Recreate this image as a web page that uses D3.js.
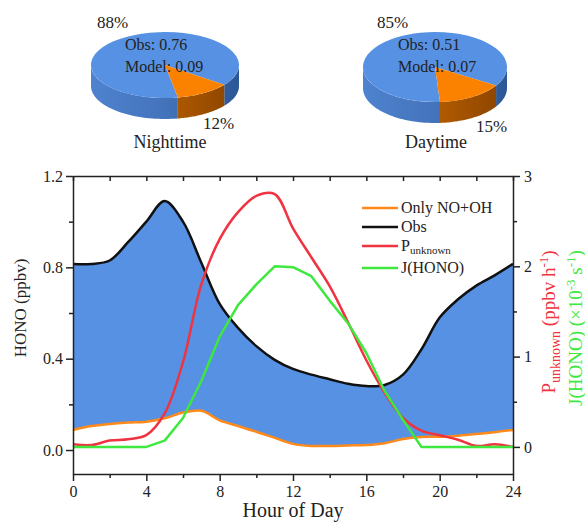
<!DOCTYPE html>
<html>
<head>
<meta charset="utf-8">
<script src="https://cdn.jsdelivr.net/npm/d3@7"></script>
<style>
  body { margin: 0; background: #fff; }
  svg { display: block; font-family: "Liberation Serif", "Times New Roman", serif; }
</style>
</head>
<body>
<div id="chart"></div>
<script>
// hourly diurnal data
var hours = [0, 1, 2, 3, 4, 5, 6, 7, 8, 9, 10, 11, 12, 13, 14, 15, 16, 17, 18, 19, 20, 21, 22, 23, 24];
var obsHono = [0.815, 0.815, 0.83, 0.91, 1.0, 1.09, 1.0, 0.82, 0.64, 0.535, 0.455, 0.395, 0.355, 0.33, 0.31, 0.29, 0.28, 0.285, 0.33, 0.44, 0.58, 0.66, 0.72, 0.765, 0.815];
var onlyNoOh = [0.088, 0.105, 0.114, 0.12, 0.124, 0.139, 0.164, 0.172, 0.13, 0.105, 0.08, 0.053, 0.027, 0.018, 0.018, 0.02, 0.022, 0.03, 0.048, 0.057, 0.058, 0.063, 0.07, 0.078, 0.088];
var pUnknown = [0.03, 0.02, 0.07, 0.085, 0.13, 0.37, 0.94, 1.8, 2.3, 2.6, 2.78, 2.8, 2.42, 2.1, 1.78, 1.38, 0.96, 0.6, 0.32, 0.18, 0.13, 0.08, 0.01, 0.03, 0.0];
var jHono = [0, 0, 0, 0, 0, 0.07, 0.32, 0.73, 1.22, 1.57, 1.8, 2.0, 1.99, 1.89, 1.62, 1.37, 1.04, 0.62, 0.3, 0, 0, 0, 0, 0, 0];

// axis ticks
var xTicks = [0, 4, 8, 12, 16, 20, 24];
var xMinor = [2, 6, 10, 14, 18, 22];
var yLeftTicks = [0, 0.4, 0.8, 1.2];
var yLeftMinor = [0.2, 0.6, 1.0];
var yRightTicks = [0, 1, 2, 3];
var yRightMinor = [0.5, 1.5, 2.5];

// pie charts (percent shares: unexplained, only NO+OH)
var pieNames = ["Nighttime", "Daytime"];
var pieShares = [[88, 12], [85, 15]];
var pieObs = ["0.76", "0.51"];
var pieModel = ["0.09", "0.07"];

var blue = "#5791e3";
var orange = "#ff8a1c";

var svgWidth = 585;
var svgHeight = 525;

var margin = {
    top: 176,
    right: 72,
    bottom: 51,
    left: 73
};

var width = svgWidth - margin.left - margin.right;
var height = svgHeight - margin.top - margin.bottom;

var svg = d3.select("#chart")
    .append("svg")
    .attr("width", svgWidth)
    .attr("height", svgHeight);

var defs = svg.append("defs");

//pies
var pieGeo = [
    {cx: 165, cy: 65, rx: 74, ry: 33, depth: 21, start: 170},
    {cx: 435, cy: 67, rx: 72, ry: 35, depth: 21, start: 176}
];

function ellPt(p, a, dy) {
    return [p.cx + p.rx * Math.sin(a), p.cy - p.ry * Math.cos(a) + dy];
}

pieGeo.forEach(function(p, i) {
    var shares = pieShares[i];
    var st = p.start * Math.PI / 180;
    var arcs = d3.pie().sort(null).startAngle(st).endAngle(st + 2 * Math.PI)(shares);
    var topCols = [blue, "#fb8200"];
    var sideStops = [["#4f83cf", "#4373bb", "#2c5795"], ["#d97400", "#b35c00", "#8a4300"]];

    var g = svg.append("g");

    // side walls (front half only)
    arcs.forEach(function(d, k) {
        var gid = "side" + i + "_" + k;
        var grad = defs.append("linearGradient")
            .attr("id", gid)
            .attr("gradientUnits", "userSpaceOnUse")
            .attr("x1", p.cx - p.rx).attr("x2", p.cx + p.rx)
            .attr("y1", 0).attr("y2", 0);
        sideStops[k].forEach(function(c, j) {
            grad.append("stop").attr("offset", j / 2).attr("stop-color", c);
        });
        [0, 1, 2].forEach(function(turn) {
            var lo = Math.max(d.startAngle, Math.PI / 2 + turn * 2 * Math.PI);
            var hi = Math.min(d.endAngle, 3 * Math.PI / 2 + turn * 2 * Math.PI);
            if (hi <= lo) return;
            var n = 40;
            var pts = [];
            for (var s = 0; s <= n; s++) pts.push(ellPt(p, lo + (hi - lo) * s / n, 0));
            for (var s2 = n; s2 >= 0; s2--) pts.push(ellPt(p, lo + (hi - lo) * s2 / n, p.depth));
            g.append("path")
                .attr("d", d3.line()(pts) + "Z")
                .attr("fill", "url(#" + gid + ")");
        });
    });

    // top face
    var top = g.append("g")
        .attr("transform", `translate(${p.cx}, ${p.cy}) scale(1, ${p.ry / p.rx})`);
    top.selectAll("path")
        .data(arcs)
        .enter()
        .append("path")
        .attr("d", d3.arc().innerRadius(0).outerRadius(p.rx))
        .attr("fill", (d, k) => topCols[k]);

    // text
    var left = p.cx - 40 + (i === 1 ? 3 : 0);
    g.append("text")
        .attr("x", left).attr("y", 50)
        .style("font-size", "16px").attr("fill", "#222")
        .text("Obs: " + pieObs[i]);
    g.append("text")
        .attr("x", left).attr("y", 72)
        .style("font-size", "16px").attr("fill", "#222")
        .text("Model: " + pieModel[i]);
    g.append("text")
        .attr("x", p.cx - 68 + i * 10).attr("y", 28)
        .style("font-size", "17px").attr("fill", "#222")
        .text(shares[0] + "%");
    g.append("text")
        .attr("x", p.cx + 38 + i * 3).attr("y", 129 + i * 3)
        .style("font-size", "17px").attr("fill", "#222")
        .text(shares[1] + "%");
    g.append("text")
        .attr("x", p.cx + (i === 0 ? 5 : 1)).attr("y", 148)
        .attr("text-anchor", "middle")
        .style("font-size", "18px").attr("fill", "#222")
        .text(pieNames[i]);
});

//main chart group
var chartGroup = svg.append("g")
    .attr("transform", `translate(${margin.left}, ${margin.top})`);

var xLinearScale = d3.scaleLinear().domain([0, 24]).range([0, width]);
var yLeftScale = d3.scaleLinear().domain([-0.105, 1.2]).range([height, 0]);
var yRightScale = d3.scaleLinear().domain([-0.3, 3]).range([height, 0]);

var rows = hours.map(function(h, i) {
    return {h: h, obs: obsHono[i], noOh: onlyNoOh[i], p: pUnknown[i], j: jHono[i]};
});

var smooth = d3.curveCatmullRom.alpha(0.5);

// blue area between Only NO+OH and Obs
chartGroup.append("path")
    .datum(rows)
    .attr("fill", blue)
    .attr("d", d3.area()
        .curve(smooth)
        .x(d => xLinearScale(d.h))
        .y0(d => yLeftScale(d.noOh))
        .y1(d => yLeftScale(d.obs)));

var lines = [
    {key: "noOh", scale: yLeftScale, color: orange, curve: smooth},
    {key: "obs", scale: yLeftScale, color: "#111", curve: smooth},
    {key: "p", scale: yRightScale, color: "#ef3340", curve: smooth},
    {key: "j", scale: yRightScale, color: "#3ee83e", curve: d3.curveLinear}
];

lines.forEach(function(l) {
    chartGroup.append("path")
        .datum(rows)
        .attr("fill", "none")
        .attr("stroke", l.color)
        .attr("stroke-width", 2.5)
        .attr("stroke-linejoin", "round")
        .attr("d", d3.line()
            .curve(l.curve)
            .x(d => xLinearScale(d.h))
            .y(d => l.scale(d[l.key])));
});

//axes
function styleAxis(sel) {
    sel.selectAll("path").attr("stroke", "#222").attr("stroke-width", 1.5);
    sel.selectAll("line").attr("stroke", "#222").attr("stroke-width", 1.5);
    sel.selectAll("text")
        .attr("fill", "#222")
        .style("font-size", "16px")
        .style("font-family", "Liberation Serif, Times New Roman, serif");
}

chartGroup.append("g")
    .attr("transform", `translate(0, ${height})`)
    .call(d3.axisBottom(xLinearScale).tickValues(xTicks).tickSize(7).tickSizeOuter(0).tickPadding(5))
    .call(styleAxis);
chartGroup.append("g")
    .attr("transform", `translate(0, ${height})`)
    .call(d3.axisBottom(xLinearScale).tickValues(xMinor).tickSize(4).tickFormat(""))
    .call(styleAxis)
    .select(".domain").remove();

chartGroup.append("g")
    .call(d3.axisTop(xLinearScale).tickValues(xTicks.concat(xMinor)).tickSize(-5).tickSizeOuter(0).tickFormat(""))
    .call(styleAxis);

chartGroup.append("g")
    .call(d3.axisLeft(yLeftScale).tickValues(yLeftTicks).tickFormat(d3.format(".1f")).tickSize(7).tickSizeOuter(0).tickPadding(3))
    .call(styleAxis);
chartGroup.append("g")
    .call(d3.axisLeft(yLeftScale).tickValues(yLeftMinor).tickSize(4).tickFormat(""))
    .call(styleAxis)
    .select(".domain").remove();

chartGroup.append("g")
    .attr("transform", `translate(${width}, 0)`)
    .call(d3.axisRight(yRightScale).tickValues(yRightTicks).tickFormat(d3.format("d")).tickSize(7).tickSizeOuter(0).tickPadding(4))
    .call(styleAxis);
chartGroup.append("g")
    .attr("transform", `translate(${width}, 0)`)
    .call(d3.axisRight(yRightScale).tickValues(yRightMinor).tickSize(4).tickFormat(""))
    .call(styleAxis)
    .select(".domain").remove();

//axis titles
svg.append("text")
    .attr("x", margin.left + width / 2)
    .attr("y", 517)
    .attr("text-anchor", "middle")
    .style("font-size", "20px")
    .attr("fill", "#222")
    .text("Hour of Day");

svg.append("text")
    .attr("transform", "translate(26, 308) rotate(-90)")
    .attr("text-anchor", "middle")
    .style("font-size", "17px")
    .attr("fill", "#222")
    .text("HONO (ppbv)");

var pLabel = svg.append("text")
    .attr("transform", "translate(555, 322) rotate(-90)")
    .attr("text-anchor", "middle")
    .style("font-size", "19px")
    .attr("fill", "#ef3340");
pLabel.append("tspan").text("P");
pLabel.append("tspan").attr("dy", 5).style("font-size", "14px").text("unknown");
pLabel.append("tspan").attr("dy", -5).text(" (ppbv h");
pLabel.append("tspan").attr("dy", -7).style("font-size", "13px").text("-1");
pLabel.append("tspan").attr("dy", 7).text(")");

var jLabel = svg.append("text")
    .attr("transform", "translate(582, 328) rotate(-90)")
    .attr("text-anchor", "middle")
    .style("font-size", "19px")
    .attr("fill", "#3ee83e");
jLabel.append("tspan").text("J(HONO) (\u00d710");
jLabel.append("tspan").attr("dy", -7).style("font-size", "13px").text("-3");
jLabel.append("tspan").attr("dy", 7).text(" s");
jLabel.append("tspan").attr("dy", -7).style("font-size", "13px").text("-1");
jLabel.append("tspan").attr("dy", 7).text(")");

//legend
var legendNames = ["Only NO+OH", "Obs", "P", "J(HONO)"];
var legendColors = [orange, "#111", "#ef3340", "#3ee83e"];
var legendY = [208, 227, 246, 268];

var legend = svg.append("g");
legendNames.forEach(function(name, i) {
    legend.append("line")
        .attr("x1", 362).attr("x2", 398)
        .attr("y1", legendY[i]).attr("y2", legendY[i])
        .attr("stroke", legendColors[i])
        .attr("stroke-width", 2.5);
    var t = legend.append("text")
        .attr("x", 401)
        .attr("y", legendY[i] + 5)
        .style("font-size", "16px")
        .attr("fill", "#222")
        .text(name);
    if (name === "P") {
        t.append("tspan").attr("dy", 3).style("font-size", "11px").text("unknown");
    }
});
</script>
</body>
</html>
